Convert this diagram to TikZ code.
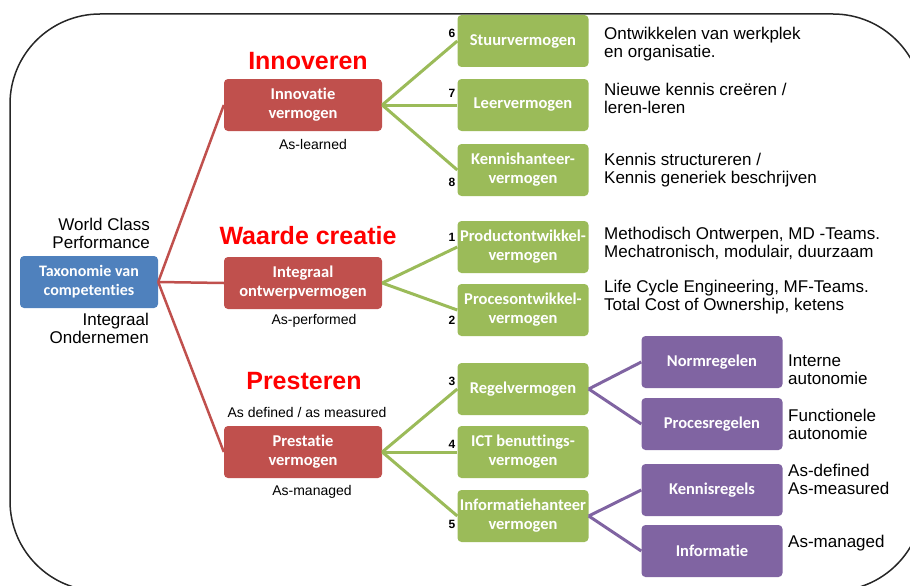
\documentclass[tikz,border=0pt]{standalone}
\usepackage{fontspec}
\setmainfont{Liberation Sans}
\newfontfamily\boxfont[Ligatures=NoCommon]{Carlito}
\usetikzlibrary{positioning}
\definecolor{boxblue}{HTML}{4F81BD}
\definecolor{boxred}{HTML}{C0504D}
\definecolor{boxgreen}{HTML}{9BBB59}
\definecolor{boxpurple}{HTML}{8064A2}
\definecolor{headred}{HTML}{FF0000}
\tikzset{
  box/.style={rounded corners=4pt, text=white, align=center, inner sep=0pt,
    minimum height=52pt, font=\boxfont\bfseries\fontsize{16.5}{19}\selectfont},
  rootbox/.style={box, fill=boxblue, minimum width=138pt,
    font=\boxfont\bfseries\fontsize{16}{19}\selectfont},
  capbox/.style={box, fill=boxred, minimum width=158pt},
  skillbox/.style={box, fill=boxgreen, minimum width=131pt},
  rulebox/.style={box, fill=boxpurple, minimum width=141pt},
  heading/.style={text=headred, font=\bfseries\fontsize{25}{28}\selectfont},
  note/.style={anchor=west, align=left, inner sep=0pt},
  tag/.style={inner sep=0pt, font=\fontsize{14}{15}\selectfont},
  num/.style={inner sep=0pt, font=\bfseries\fontsize{12}{12}\selectfont},
  redline/.style={draw=boxred, line width=2.5pt},
  greenline/.style={draw=boxgreen, line width=3pt},
  purpleline/.style={draw=boxpurple, line width=3pt}
}
\begin{document}
\begin{tikzpicture}[x=1pt, y=-1pt, every node/.style={font=\fontsize{17}{18}\selectfont}]
  \useasboundingbox (0,0) rectangle (910,586);
  % frame
  \draw[line width=1.5pt, draw=black!85, rounded corners=90pt] (10,14) rectangle (923,591);
  % root
  \node[rootbox] (root) at (89,282) {Taxonomie van\\competenties};
  \node[note, anchor=east, align=right] (wcp) at (150,233) {World Class\\Performance};
  \node[note, anchor=east, align=right] (io) at (149,328) {Integraal\\Ondernemen};
  % capabilities
  \node[capbox] (innov) at (303,105) {Innovatie\\vermogen};
  \node[capbox] (integr) at (303,283) {Integraal\\ontwerpvermogen};
  \node[capbox] (prest) at (303,452) {Prestatie\\vermogen};
  \node[heading] (h_innov) at (308,61) {Innoveren};
  \node[heading] (h_integr) at (308,236) {Waarde creatie};
  \node[heading] (h_prest) at (304,381) {Presteren};
  \node[tag] (t_innov) at (313,144) {As-learned};
  \node[tag] (t_integr) at (314,321) {As-performed};
  \node[tag] (t_defined) at (307,412) {As defined / as measured};
  \node[tag] (t_prest) at (312,492) {As-managed};
  \foreach \c in {innov,integr,prest} {
    \draw[redline] (root.east) -- (\c.west);
  }
  % skills
  \foreach \n/\p/\y/\txt/\k/\ky in {stuur/innov/41/Stuurvermogen/6/33,
      leer/innov/105/Leervermogen/7/93,
      kennis/innov/170/{Kennishanteer-\\vermogen}/8/182,
      product/integr/247/{Productontwikkel-\\vermogen}/1/237,
      proces/integr/310/{Procesontwikkel-\\vermogen}/2/320,
      regel/prest/389/Regelvermogen/3/381,
      ict/prest/452/{ICT benuttings-\\vermogen}/4/444,
      info/prest/516/{Informatiehanteer\\vermogen}/5/524} {
    \node[skillbox] (\n) at (523,\y) {\txt};
    \node[num] (num_\n) at (452,\ky) {\k};
    \draw[greenline] (\p.east) -- (\n.west);
  }
  % notes on skills
  \node[note] (n_stuur) at (604,44) {Ontwikkelen van werkplek\\en organisatie.};
  \node[note] (n_leer) at (604,98) {Nieuwe kennis creëren /\\leren-leren};
  \node[note] (n_kennis) at (604,170) {Kennis structureren /\\Kennis generiek beschrijven};
  \node[note] (n_product) at (604,243) {Methodisch Ontwerpen, MD -Teams.\\Mechatronisch, modulair, duurzaam};
  \node[note] (n_proces) at (604,297) {Life Cycle Engineering, MF-Teams.\\Total Cost of Ownership, ketens};
  % rules
  \foreach \n/\p/\y/\txt/\ny/\note in {norm/regel/362/Normregelen/370/{Interne\\autonomie},
      procr/regel/424/Procesregelen/424/{Functionele\\autonomie},
      kregel/info/490/Kennisregels/479/{As-defined\\As-measured},
      inform/info/551/Informatie/543/As-managed} {
    \node[rulebox] (\n) at (712,\y) {\txt};
    \node[note] (n_\n) at (788,\ny) {\note};
    \draw[purpleline] (\p.east) -- (\n.west);
  }
\end{tikzpicture}
\end{document}
